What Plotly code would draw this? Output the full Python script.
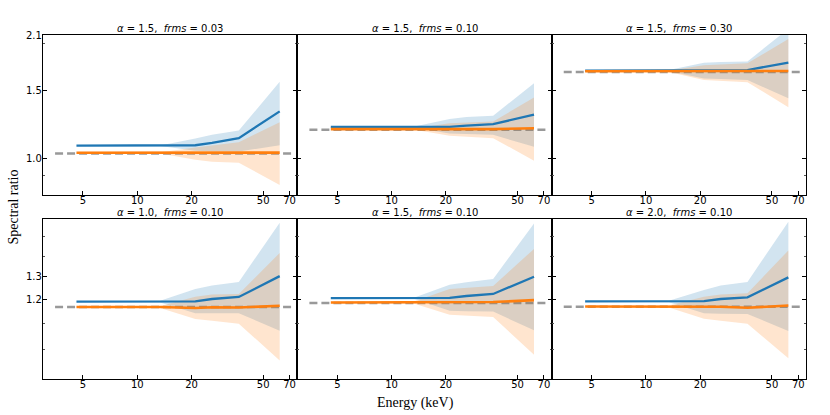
import math
import plotly.graph_objects as go
from plotly.subplots import make_subplots

# ---------------- data ----------------
energy = [4.6, 13.4, 21.0, 26.0, 36.6, 61.7]
ref_energy = [3.5, 75.0]

alpha_labels = ["1.5", "1.5", "1.5", "1.0", "1.5", "2.0"]
frms_labels = ["0.03", "0.10", "0.30", "0.10", "0.10", "0.10"]

reference_level = [1.028, 1.185, 1.680, 1.166, 1.183, 1.167]

blue_mid = [
    [1.077, 1.077, 1.080, 1.095, 1.127, 1.325],
    [1.206, 1.206, 1.207, 1.215, 1.226, 1.300],
    [1.694, 1.694, 1.695, 1.698, 1.700, 1.778],
    [1.189, 1.189, 1.190, 1.200, 1.209, 1.303],
    [1.204, 1.204, 1.205, 1.213, 1.222, 1.300],
    [1.190, 1.190, 1.191, 1.200, 1.207, 1.297],
]
blue_hi = [
    [1.077, 1.079, 1.125, 1.150, 1.180, 1.585],
    [1.206, 1.210, 1.265, 1.280, 1.290, 1.570],
    [1.694, 1.700, 1.775, 1.785, 1.790, 2.180],
    [1.189, 1.192, 1.244, 1.260, 1.276, 1.578],
    [1.204, 1.207, 1.263, 1.275, 1.290, 1.574],
    [1.190, 1.193, 1.240, 1.260, 1.276, 1.585],
]
blue_lo = [
    [1.077, 1.075, 1.045, 1.042, 1.040, 1.080],
    [1.206, 1.200, 1.160, 1.155, 1.150, 1.070],
    [1.694, 1.688, 1.616, 1.610, 1.600, 1.433],
    [1.189, 1.185, 1.140, 1.140, 1.140, 1.071],
    [1.204, 1.200, 1.150, 1.148, 1.147, 1.072],
    [1.190, 1.186, 1.140, 1.138, 1.137, 1.070],
]
orange_mid = [
    [1.032, 1.032, 1.030, 1.030, 1.030, 1.033],
    [1.190, 1.190, 1.190, 1.190, 1.190, 1.197],
    [1.688, 1.688, 1.688, 1.688, 1.688, 1.690],
    [1.166, 1.166, 1.162, 1.165, 1.164, 1.171],
    [1.185, 1.185, 1.185, 1.186, 1.187, 1.195],
    [1.168, 1.168, 1.167, 1.167, 1.163, 1.172],
]
orange_hi = [
    [1.032, 1.035, 1.065, 1.080, 1.100, 1.240],
    [1.190, 1.195, 1.233, 1.240, 1.246, 1.440],
    [1.688, 1.695, 1.750, 1.760, 1.770, 2.050],
    [1.166, 1.170, 1.210, 1.220, 1.222, 1.416],
    [1.185, 1.190, 1.244, 1.250, 1.257, 1.437],
    [1.168, 1.172, 1.210, 1.220, 1.225, 1.429],
]
orange_lo = [
    [1.032, 1.028, 0.990, 0.978, 0.972, 0.850],
    [1.190, 1.185, 1.143, 1.135, 1.127, 0.984],
    [1.688, 1.680, 1.600, 1.590, 1.580, 1.358],
    [1.166, 1.162, 1.117, 1.110, 1.098, 0.962],
    [1.185, 1.180, 1.134, 1.130, 1.125, 0.982],
    [1.168, 1.164, 1.118, 1.110, 1.098, 0.970],
]

x_ticks = [5, 10, 20, 50, 70]
top_major = [1.0, 1.5, 2.1]
top_minor = [0.9, 2.0]
bottom_major = [1.2, 1.3]
bottom_minor = [0.9, 1.0, 1.1, 1.4, 1.5]
top_range = [0.8, 2.1]
bottom_range = [0.9, 1.6]
x_range = [3.0, 77.3]

# ---------------- figure ----------------
BLUE = "#1f77b4"
ORANGE = "#ff7f0e"
BLUE_FILL = "rgba(31,119,180,0.2)"
ORANGE_FILL = "rgba(255,127,14,0.2)"

fig = make_subplots(rows=2, cols=3, horizontal_spacing=0, vertical_spacing=0.07)

for i in range(6):
    r = i // 3 + 1
    c = i % 3 + 1
    fig.add_trace(go.Scatter(x=ref_energy, y=[reference_level[i]] * 2, mode="lines",
                             line=dict(color="#999999", width=2.5, dash="8px,4px"),
                             hoverinfo="skip", showlegend=False), row=r, col=c)
    fig.add_trace(go.Scatter(x=energy + energy[::-1], y=blue_hi[i] + blue_lo[i][::-1],
                             mode="lines", line=dict(width=0), fill="toself",
                             fillcolor=BLUE_FILL, hoverinfo="skip", showlegend=False),
                  row=r, col=c)
    fig.add_trace(go.Scatter(x=energy + energy[::-1], y=orange_hi[i] + orange_lo[i][::-1],
                             mode="lines", line=dict(width=0), fill="toself",
                             fillcolor=ORANGE_FILL, hoverinfo="skip", showlegend=False),
                  row=r, col=c)
    fig.add_trace(go.Scatter(x=energy, y=blue_mid[i], mode="lines",
                             line=dict(color=BLUE, width=2.3), showlegend=False),
                  row=r, col=c)
    fig.add_trace(go.Scatter(x=energy, y=orange_mid[i], mode="lines",
                             line=dict(color=ORANGE, width=2.6), showlegend=False),
                  row=r, col=c)

tick_font = dict(family="DejaVu Sans", size=10, color="black")

col_domains = [[0, 1 / 3], [1 / 3, 2 / 3], [2 / 3, 1]]
row_domains = [[0.5349, 1.0], [0.0, 0.4651]]

for i in range(6):
    r = i // 3
    c = i % 3
    idx = "" if i == 0 else str(i + 1)
    xa = "xaxis" + idx
    ya = "yaxis" + idx
    fig.layout[xa].update(
        type="log", range=[math.log10(x_range[0]), math.log10(x_range[1])],
        domain=col_domains[c], tickmode="array", tickvals=x_ticks,
        ticktext=[str(v) for v in x_ticks], ticks="inside", ticklen=4, tickwidth=1,
        tickcolor="black", showline=True, linecolor="black", linewidth=1.3,
        mirror=True, showgrid=False, zeroline=False, tickfont=tick_font,
        automargin=False, ticklabelstandoff=-4,
    )
    major = top_major if r == 0 else bottom_major
    minor = top_minor if r == 0 else bottom_minor
    yr = top_range if r == 0 else bottom_range
    fig.layout[ya].update(
        type="log", range=[math.log10(yr[0]), math.log10(yr[1])],
        domain=row_domains[r], tickmode="array", tickvals=major,
        ticktext=[f"{v:.1f}" for v in major], ticks="inside", ticklen=4, tickwidth=1,
        tickcolor="black", showline=True, linecolor="black", linewidth=1.3,
        mirror="ticks", showgrid=False, zeroline=False, tickfont=tick_font,
        showticklabels=(c == 0), automargin=False, ticklabelstandoff=-2,
        minor=dict(tickmode="array", tickvals=minor, ticks="inside", ticklen=2,
                   tickwidth=0.8, tickcolor="#555555", showgrid=False),
    )
    fig.add_annotation(
        text=f"<i>α</i> = {alpha_labels[i]},  <i>frms</i> = {frms_labels[i]}",
        x=sum(col_domains[c]) / 2, y=row_domains[r][1], xref="paper", yref="paper",
        xanchor="center", yanchor="bottom", yshift=-1, showarrow=False,
        font=dict(family="DejaVu Sans", size=10, color="black"),
    )

fig.add_annotation(text="Spectral ratio", x=-0.038, y=0.4985, xref="paper", yref="paper",
                   textangle=-90, showarrow=False, xanchor="center", yanchor="middle",
                   font=dict(family="Liberation Serif", size=14, color="black"))
fig.add_annotation(text="Energy (keV)", x=0.4876, y=-0.07, xref="paper", yref="paper",
                   showarrow=False, xanchor="center", yanchor="middle",
                   font=dict(family="Liberation Serif", size=14, color="black"))

fig.update_layout(
    width=830, height=415,
    margin=dict(l=43, r=24, t=35, b=36, autoexpand=False),
    paper_bgcolor="white", plot_bgcolor="white",
    showlegend=False,
)

fig.write_html("out.html", config={"displayModeBar": False},
               post_script="document.body.style.margin='0';document.body.style.padding='0';")
